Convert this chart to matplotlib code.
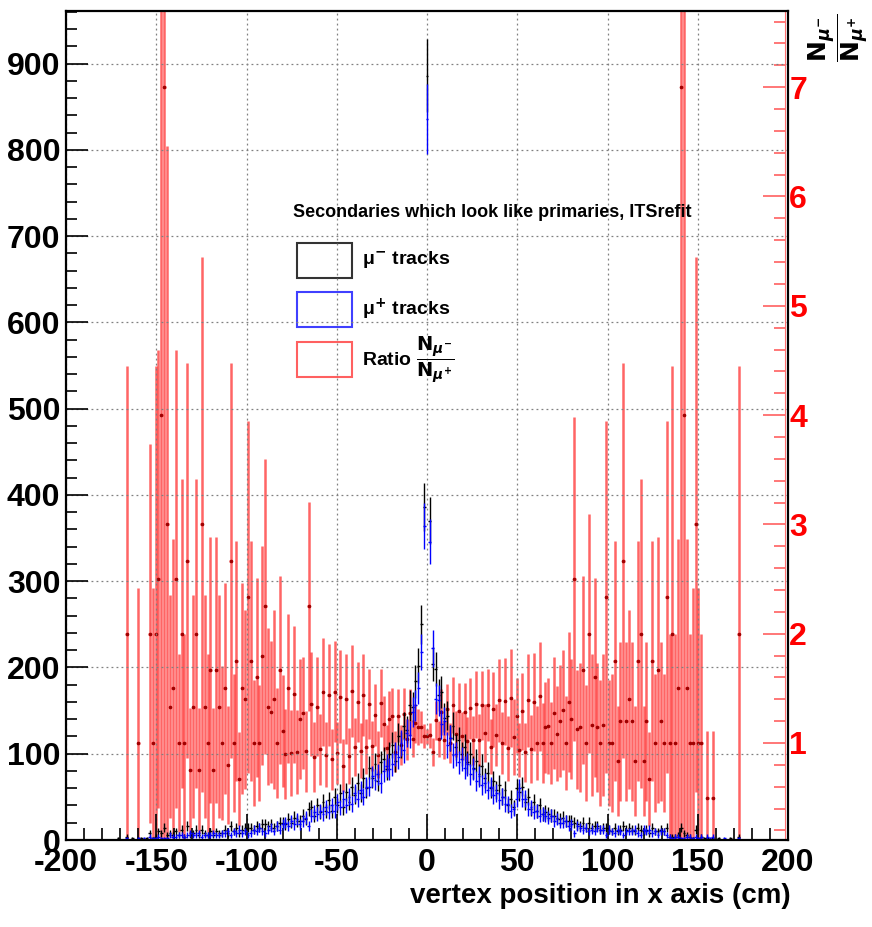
import numpy as np
import matplotlib.pyplot as plt
from matplotlib.patches import Rectangle
from matplotlib.ticker import MultipleLocator

plt.rcParams['font.family'] = ['Liberation Sans', 'DejaVu Sans']
plt.rcParams['font.weight'] = 'bold'
plt.rcParams['axes.unicode_minus'] = False

# binning: bin centres sit at k * bin_width, first entry is k = first_bin
bin_width = 1.6
first_bin = -110
# histograms are drawn scaled (like TH1::Scale), the ratio uses the raw counts
hist_scale = 2.0

# raw mu- counts per bin (10 bins per row, the lone value is the central bin)
mu_minus = [
    0, 0, 0, 1, 0, 0, 2, 0, 1, 0,
    1, 1, 0, 1, 4, 1, 2, 5, 4, 7,
    3, 4, 3, 5, 3, 6, 2, 8, 3, 4,
    6, 3, 6, 4, 3, 5, 3, 5, 4, 4,
    6, 4, 8, 5, 7, 4, 6, 7, 7, 7,
    6, 8, 7, 9, 9, 8, 9, 7, 8, 10,
    10, 9, 12, 10, 13, 11, 11, 14, 12, 18,
    19, 14, 20, 16, 22, 17, 23, 17, 25, 20,
    27, 19, 28, 22, 31, 26, 33, 27, 36, 30,
    42, 36, 44, 34, 45, 47, 41, 50, 55, 46,
    60, 55, 66, 64, 78, 77, 92, 101, 125, 193,
    443,
    185, 102, 99, 84, 86, 71, 72, 59, 66, 54,
    58, 50, 54, 45, 50, 42, 46, 38, 43, 36,
    39, 30, 34, 29, 32, 25, 29, 20, 24, 19,
    30, 28, 31, 22, 25, 18, 22, 17, 20, 15,
    16, 15, 14, 14, 13, 12, 13, 11, 11, 11,
    10, 9, 8, 10, 7, 10, 7, 8, 8, 6,
    7, 7, 6, 5, 7, 5, 6, 8, 6, 7,
    6, 5, 7, 6, 5, 6, 4, 7, 5, 5,
    6, 5, 7, 2, 2, 2, 3, 7, 4, 3,
    2, 1, 6, 1, 2, 1, 1, 0, 1, 0,
    1, 0, 0, 0, 1, 0, 0, 2, 0, 0,
]

# raw mu+ counts per bin, same bins
mu_plus = [
    0, 0, 0, 0, 0, 0, 1, 0, 0, 0,
    1, 0, 1, 0, 2, 1, 1, 2, 1, 1,
    1, 3, 2, 2, 3, 3, 2, 3, 4, 3,
    3, 4, 2, 3, 3, 3, 4, 3, 3, 4,
    4, 5, 3, 5, 4, 6, 4, 5, 3, 4,
    6, 5, 7, 5, 4, 6, 7, 5, 8, 6,
    9, 10, 8, 11, 9, 12, 9, 11, 13, 8,
    14, 16, 15, 17, 15, 19, 16, 20, 17, 22,
    19, 24, 20, 25, 21, 27, 24, 29, 25, 31,
    31, 37, 35, 38, 33, 40, 43, 41, 44, 50,
    48, 56, 52, 62, 61, 74, 78, 88, 109, 182,
    418,
    173, 111, 82, 81, 67, 69, 55, 59, 49, 50,
    45, 47, 42, 44, 38, 41, 34, 37, 32, 33,
    29, 31, 26, 27, 23, 25, 21, 21, 17, 18,
    24, 30, 24, 24, 18, 19, 16, 17, 14, 15,
    14, 13, 14, 11, 12, 10, 10, 11, 8, 9,
    4, 8, 7, 6, 7, 5, 6, 5, 7, 6,
    6, 3, 6, 5, 4, 6, 5, 3, 5, 5,
    5, 6, 4, 3, 6, 5, 6, 4, 5, 3,
    5, 5, 3, 2, 1, 2, 2, 1, 1, 2,
    2, 1, 2, 1, 2, 0, 2, 1, 2, 0,
    0, 0, 1, 0, 0, 0, 0, 1, 0, 0,
]

x_ticks = [-200, -150, -100, -50, 0, 50, 100, 150, 200]
y_ticks = [0, 100, 200, 300, 400, 500, 600, 700, 800, 900]
ratio_ticks = [1, 2, 3, 4, 5, 6, 7]

nm = np.array(mu_minus, dtype=float)
npl = np.array(mu_plus, dtype=float)
x = (np.arange(len(nm)) + first_bin) * bin_width

ok = (nm > 0) & (npl > 0)
ratio = nm[ok] / npl[ok]
ratio_err = ratio * np.sqrt(1 / nm[ok] + 1 / npl[ok])

fig = plt.figure(figsize=(8.72, 9.27), dpi=100)
ax = fig.add_axes([66 / 872, 87 / 927, 722 / 872, 829 / 927])
ax2 = ax.twinx()
ax.set_zorder(ax2.get_zorder() + 1)
ax.patch.set_visible(False)

# ratio on its own (right) axis
ax2.errorbar(x[ok], ratio, yerr=ratio_err, xerr=bin_width / 2, fmt='o', ms=1.6,
             mfc='#a00000', mec='#a00000', ecolor='#ff2a2ab8', elinewidth=1.8)

ax.errorbar(x, nm * hist_scale, yerr=np.sqrt(nm) * hist_scale, xerr=bin_width / 2,
            fmt='none', ecolor='black', elinewidth=1.0)
ax.errorbar(x, npl * hist_scale, yerr=np.sqrt(npl) * hist_scale, xerr=bin_width / 2,
            fmt='none', ecolor='#0000ff', elinewidth=1.0)

ax.set_xlim(-200, 200)
ax.set_ylim(0, 961)
ax.set_xticks(x_ticks)
ax.set_yticks(y_ticks)
ax.xaxis.set_minor_locator(MultipleLocator(10))
ax.yaxis.set_minor_locator(MultipleLocator(20))
ax.tick_params(which='both', direction='in', top=False, right=False, labelsize=23, width=1.2)
ax.tick_params(axis='x', which='major', length=19, pad=6)
ax.tick_params(axis='x', which='minor', length=8.6)
ax.tick_params(axis='y', which='major', length=16, pad=4)
ax.tick_params(axis='y', which='minor', length=8)
ax.grid(True, which='major', linestyle=(0, (1.5, 2.5)), color='#808080', lw=0.9)
for s in ax.spines.values():
    s.set_linewidth(1.6)

ax2.set_ylim(0.1125, 7.697)
ax2.set_yticks(ratio_ticks)
ax2.yaxis.set_minor_locator(MultipleLocator(0.2))
ax2.tick_params(axis='y', which='both', direction='in', colors='#ff6060',
                labelcolor='red', labelsize=23, pad=3, width=1.2)
ax2.tick_params(axis='y', which='major', length=16)
ax2.tick_params(axis='y', which='minor', length=8)
for name in ['top', 'bottom', 'left']:
    ax2.spines[name].set_visible(False)
ax2.spines['right'].set_color('#ff7070')
ax2.spines['right'].set_position(('axes', 0.9958))

ax.set_xlabel('vertex position in x axis (cm)', fontsize=20, fontweight='bold', ha='right')
ax.xaxis.set_label_coords(1.003, -0.052)

fig.text(839 / 872, 1 - 14 / 927,
         r'$\dfrac{\mathbf{N}_{\mu^{-}}}{\mathbf{N}_{\mu^{+}}}$',
         rotation=90, ha='center', va='top', fontsize=18)

# legend drawn by hand, ROOT style
ax.text(0.3144, 0.7575, 'Secondaries which look like primaries, ITSrefit',
        transform=ax.transAxes, ha='left', va='center', fontsize=13)
entries = [
    ('#333333', 'μ$^{-}$ tracks', 0.6779),
    ('#4040ff', 'μ$^{+}$ tracks', 0.6188),
    ('#ff6060', r'Ratio $\dfrac{\mathbf{N}_{\mu^{-}}}{\mathbf{N}_{\mu^{+}}}$', 0.5585),
]
for col, lab, y0 in entries:
    ax.add_patch(Rectangle((0.3199, y0), 0.0762, 0.0422, transform=ax.transAxes,
                           facecolor='none', edgecolor=col, lw=1.5))
    ax.text(0.4104, y0 + 0.0211, lab, transform=ax.transAxes,
            ha='left', va='center', fontsize=14)

fig.savefig('out.png', dpi=100)
